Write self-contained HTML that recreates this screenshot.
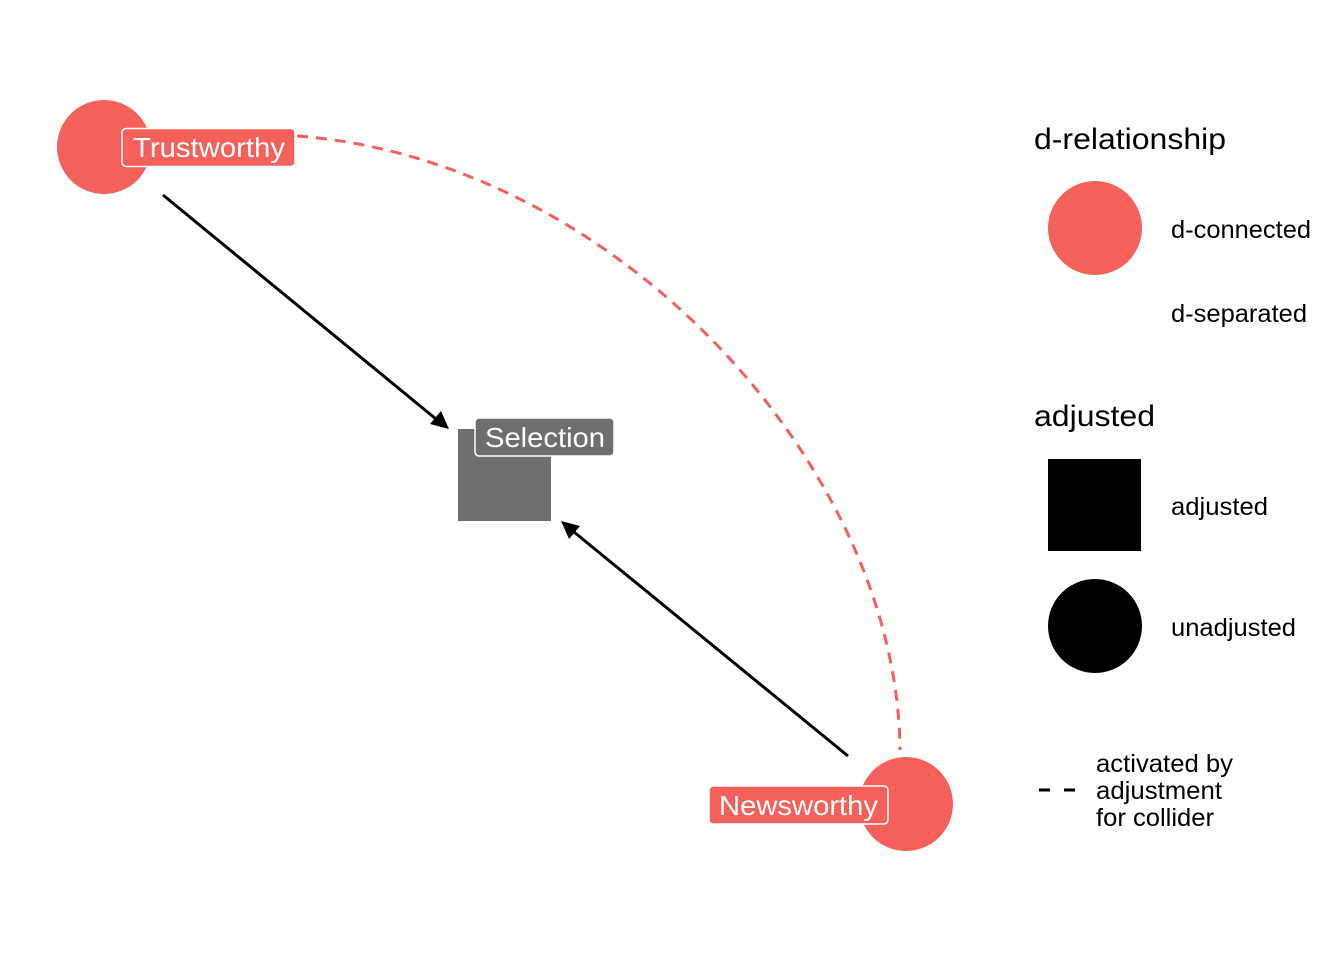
<!DOCTYPE html>
<html><head><style>html,body{margin:0;padding:0;background:#fff}svg{display:block}text{font-family:"Liberation Sans",Arial,sans-serif}</style></head>
<body>
<svg width="1344" height="960" viewBox="0 0 1344 960" xmlns="http://www.w3.org/2000/svg">
<rect width="1344" height="960" fill="#fff"/>
<path d="M297,136 C620,160 898,470 900,750" fill="none" stroke="#F5605B" stroke-width="3" stroke-dasharray="11,8"/>
<circle cx="104" cy="147" r="47" fill="#F5605B"/>
<circle cx="906" cy="804" r="47" fill="#F5605B"/>
<rect x="458" y="429" width="93" height="92" fill="#6E6E6E"/>
<line x1="163" y1="195" x2="436" y2="419" stroke="#000" stroke-width="3"/>
<polygon points="449,429 430,424 441,411" fill="#000"/>
<line x1="848" y1="756" x2="574" y2="532" stroke="#000" stroke-width="3"/>
<polygon points="561,521 580,526 569,539" fill="#000"/>
<rect x="122" y="128.5" width="173" height="38" rx="4" fill="#F5605B" stroke="#fff" stroke-width="1.5"/>
<text x="133" y="157" font-size="28" fill="#fff" textLength="152" lengthAdjust="spacingAndGlyphs">Trustworthy</text>
<rect x="475" y="418" width="139" height="38" rx="4" fill="#6E6E6E" stroke="#fff" stroke-width="1.5"/>
<text x="485" y="447" font-size="28" fill="#fff" textLength="120" lengthAdjust="spacingAndGlyphs">Selection</text>
<rect x="709" y="786" width="179" height="38" rx="4" fill="#F5605B" stroke="#fff" stroke-width="1.5"/>
<text x="719" y="815" font-size="28" fill="#fff" textLength="159" lengthAdjust="spacingAndGlyphs">Newsworthy</text>
<text x="1034" y="149" font-size="30" fill="#000" textLength="192" lengthAdjust="spacingAndGlyphs">d-relationship</text>
<circle cx="1095" cy="228" r="47" fill="#F5605B"/>
<text x="1171" y="238" font-size="25" fill="#000" textLength="140" lengthAdjust="spacingAndGlyphs">d-connected</text>
<text x="1171" y="322" font-size="25" fill="#000" textLength="136" lengthAdjust="spacingAndGlyphs">d-separated</text>
<text x="1034" y="426" font-size="30" fill="#000" textLength="121" lengthAdjust="spacingAndGlyphs">adjusted</text>
<rect x="1048" y="459" width="93" height="92" fill="#000"/>
<text x="1171" y="515" font-size="25" fill="#000" textLength="97" lengthAdjust="spacingAndGlyphs">adjusted</text>
<circle cx="1095" cy="626" r="47" fill="#000"/>
<text x="1171" y="636" font-size="25" fill="#000" textLength="125" lengthAdjust="spacingAndGlyphs">unadjusted</text>
<line x1="1039" y1="790" x2="1077" y2="790" stroke="#000" stroke-width="3" stroke-dasharray="11,14"/>
<text x="1096" y="772" font-size="25" fill="#000" textLength="137" lengthAdjust="spacingAndGlyphs">activated by</text>
<text x="1096" y="799" font-size="25" fill="#000" textLength="126" lengthAdjust="spacingAndGlyphs">adjustment</text>
<text x="1096" y="826" font-size="25" fill="#000" textLength="118" lengthAdjust="spacingAndGlyphs">for collider</text>
</svg>
</body></html>
